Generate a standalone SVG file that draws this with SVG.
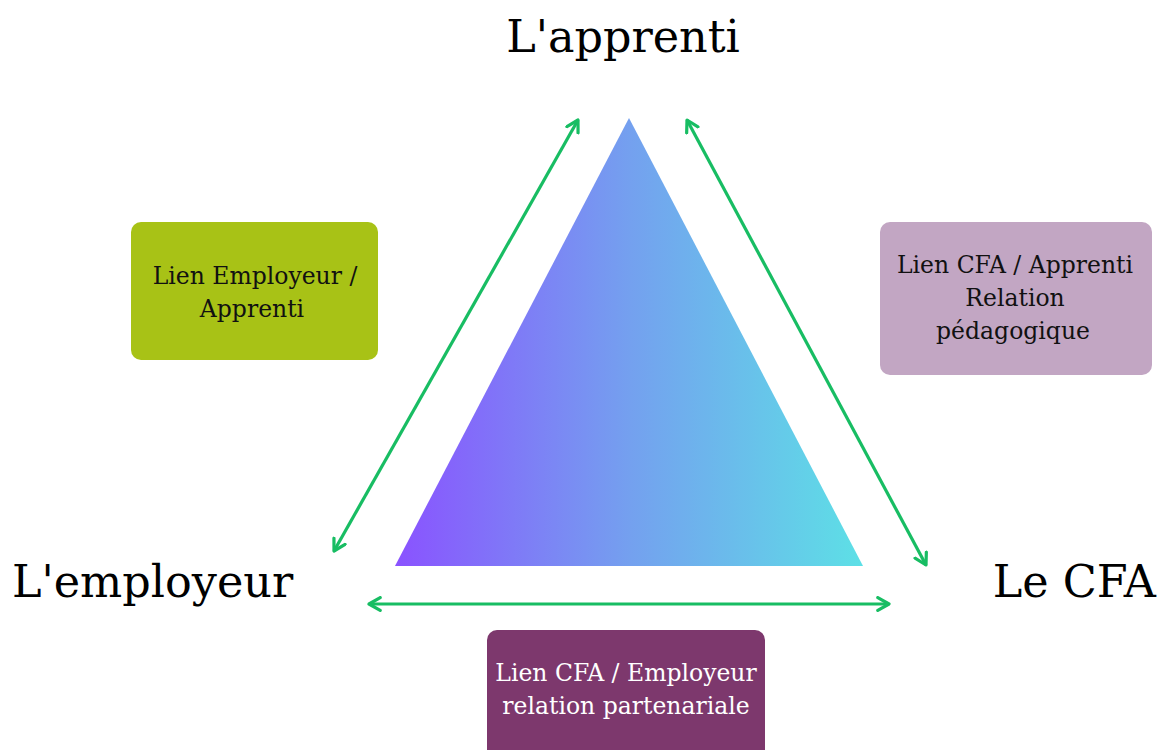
<svg xmlns="http://www.w3.org/2000/svg" width="1159" height="750" viewBox="0 0 1159 750">
<defs>
<linearGradient id="tri" x1="395" y1="0" x2="863" y2="0" gradientUnits="userSpaceOnUse">
<stop offset="0" stop-color="#8a52ff"/>
<stop offset="0.5" stop-color="#74a0ef"/>
<stop offset="1" stop-color="#5de0e6"/>
</linearGradient>
<marker id="ah" viewBox="0 0 10 10" refX="8" refY="5" markerWidth="5" markerHeight="5" orient="auto-start-reverse" markerUnits="strokeWidth">
<path d="M1,1 L8,5 L1,9" fill="none" stroke="#18bd63" stroke-width="2" stroke-linecap="round" stroke-linejoin="round"/>
</marker>
<style>
.title{font-family:"DejaVu Serif",serif;font-size:44.5px;fill:#000}
.lbl{font-family:"DejaVu Serif",serif;font-size:23.5px;text-anchor:middle}
.conn{stroke:#18bd63;stroke-width:3.2;fill:none;marker-start:url(#ah);marker-end:url(#ah)}
</style>
</defs>
<rect width="1159" height="750" fill="#fff"/>
<g id="triangle"><polygon points="629,118 395,566 863,566" fill="url(#tri)"/></g>
<g id="connectors">
<line class="conn" x1="334" y1="551" x2="578" y2="120"/>
<line class="conn" x1="687" y1="120" x2="926" y2="565"/>
<line class="conn" x1="369" y1="604" x2="889" y2="604"/>
</g>
<g id="apprenti"><text class="title" x="623" y="52" text-anchor="middle">L'apprenti</text></g>
<g id="employeur"><text class="title" x="12" y="597">L'employeur</text></g>
<g id="cfa"><text class="title" x="1156" y="597" text-anchor="end">Le CFA</text></g>
<g id="lien-employeur-apprenti">
<rect x="131" y="222" width="247" height="138" rx="10" fill="#a8c216"/>
<text class="lbl" x="255" y="284" fill="#111">Lien Employeur /</text>
<text class="lbl" x="252" y="317" fill="#111">Apprenti</text>
</g>
<g id="lien-cfa-apprenti">
<rect x="880" y="222" width="272" height="153" rx="10" fill="#c2a6c3"/>
<text class="lbl" x="1015" y="273" fill="#111">Lien CFA / Apprenti</text>
<text class="lbl" x="1015" y="306" fill="#111">Relation</text>
<text class="lbl" x="1013" y="339" fill="#111">pédagogique</text>
</g>
<g id="lien-cfa-employeur">
<rect x="487" y="630" width="278" height="140" rx="10" fill="#7d386d"/>
<text class="lbl" x="626" y="681" fill="#fff">Lien CFA / Employeur</text>
<text class="lbl" x="626" y="714" fill="#fff">relation partenariale</text>
</g>
</svg>
